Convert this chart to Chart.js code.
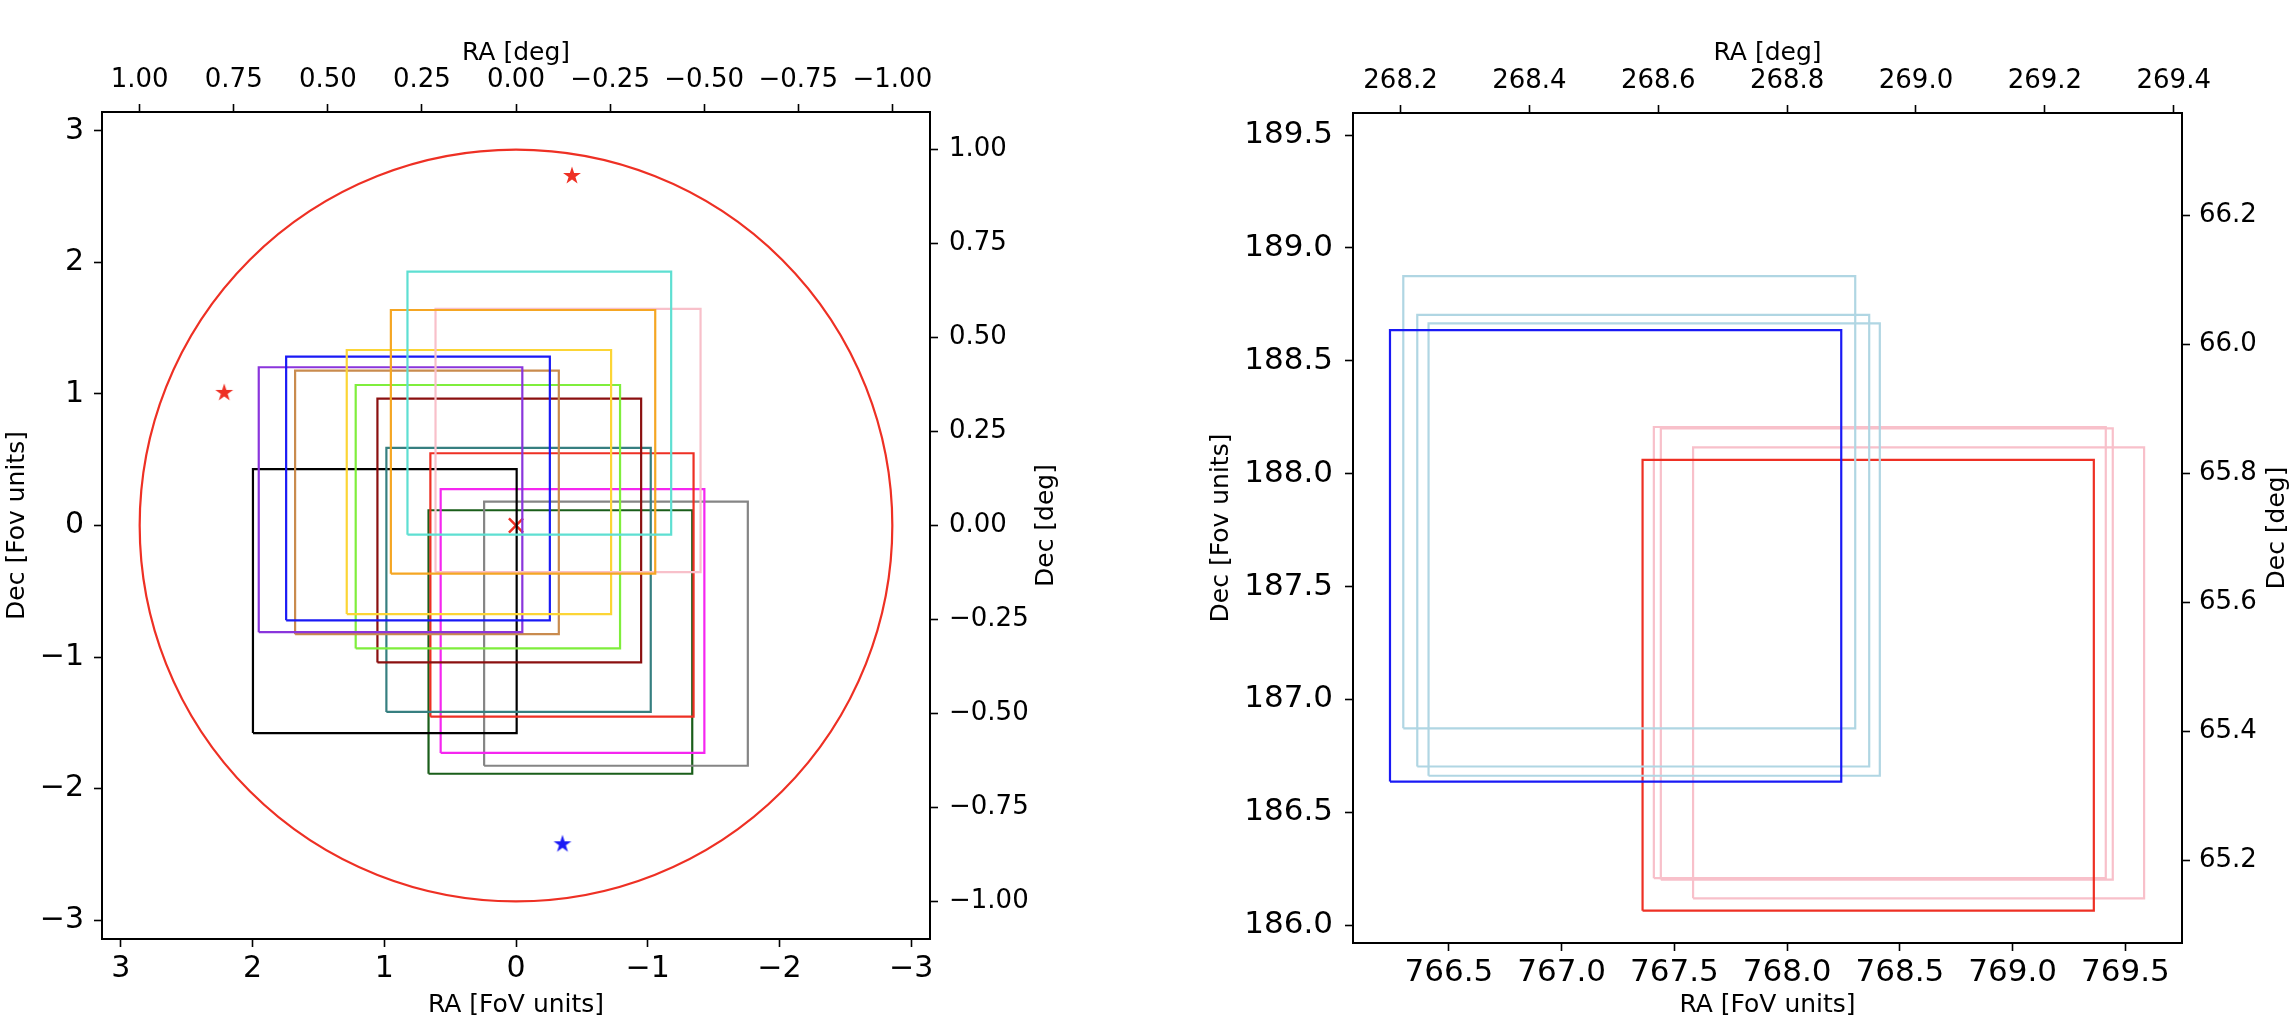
<!DOCTYPE html>
<html><head><meta charset="utf-8">
<script src="https://cdn.jsdelivr.net/npm/chart.js@4.4.0/dist/chart.umd.min.js"></script>
<style>
html,body{margin:0;padding:0;background:#fff;width:2296px;height:1028px;overflow:hidden}
canvas{position:absolute;top:0}
</style></head><body>
<canvas id="c1" width="1068" height="1028" style="left:0px"></canvas>
<canvas id="c2" width="1100" height="1028" style="left:1196px"></canvas>
<script>
// ---------------- DATA ----------------
const FOV_TO_DEG = 0.35;

// Left panel: FoV boxes (edges in FoV units)
const leftBoxNames   = ['turquoise','orange','pink','gold','blue','blueviolet','peru','lawngreen','darkred','teal','red','black','magenta','gray','darkgreen'];
const leftBoxRaLeft  = [0.824, 0.950, 0.611, 1.285, 1.745, 1.953, 1.677, 1.217, 1.052, 0.984, 0.650, 1.997, 0.572, 0.242, 0.664];
const leftBoxRaRight = [-1.178,-1.057,-1.401,-0.722,-0.257,-0.048,-0.325,-0.790,-0.950,-1.023,-1.348,-0.005,-1.430,-1.760,-1.338];
const leftBoxDecBot  = [-0.070,-0.366,-0.355,-0.673,-0.721,-0.811,-0.826,-0.934,-1.041,-1.417,-1.453,-1.578,-1.729,-1.826,-1.887];
const leftBoxDecTop  = [1.929, 1.638, 1.646, 1.334, 1.284, 1.203, 1.177, 1.068, 0.965, 0.590, 0.549, 0.428, 0.276, 0.182, 0.116];

// Left panel: markers
const redStarRa  = [-0.425, 2.215];
const redStarDec = [2.657, 1.008];
const blueStarRa  = [-0.353];
const blueStarDec = [-2.423];
const centerRa  = [0];
const centerDec = [0];
// Left panel: FoV circle (1 deg)
const circleRa = [0], circleDec = [0], circleRadius = [2.857];

// Right panel: boxes
const rightBoxNames   = ['blue','lightblue','lightblue','lightblue','red','pink','pink','pink'];
const rightBoxRaLeft  = [766.239, 766.298, 766.360, 766.410, 767.359, 767.409, 767.440, 767.583];
const rightBoxRaRight = [768.240, 768.302, 768.364, 768.411, 769.360, 769.413, 769.444, 769.583];
const rightBoxDecBot  = [186.636, 186.872, 186.703, 186.662, 186.064, 186.208, 186.202, 186.119];
const rightBoxDecTop  = [188.636, 188.875, 188.704, 188.666, 188.061, 188.207, 188.201, 188.117];

// Tick values
const leftFovTicks = [-3,-2,-1,0,1,2,3];
const leftDegTicks = [-1,-0.75,-0.5,-0.25,0,0.25,0.5,0.75,1];
const rightRaFovTicks  = [766.5,767.0,767.5,768.0,768.5,769.0,769.5];
const rightDecFovTicks = [186.0,186.5,187.0,187.5,188.0,188.5,189.0,189.5];
const rightRaDegTicks  = [268.2,268.4,268.6,268.8,269.0,269.2,269.4];
const rightDecDegTicks = [65.2,65.4,65.6,65.8,66.0,66.2];

// Axis limits
const leftLim = [-3.143, 3.143];
const rightRaLim  = [766.075, 769.751];
const rightDecLim = [185.921, 189.598];

// ---------------- STYLE ----------------
const FONT = "'DejaVu Sans', sans-serif";
const colorMap = {
  turquoise:'#5EDFD2', orange:'#F5A623', pink:'#F8C0CA', gold:'#FCD535', blue:'#1A1AF5',
  blueviolet:'#8A35DC', peru:'#C98B4E', lawngreen:'#7FEE3C', darkred:'#8B1010', teal:'#367F80',
  red:'#EE3024', black:'#000000', magenta:'#F526F0', gray:'#858585', darkgreen:'#1A5E1A',
  lightblue:'#B0D6E3'
};
const circleColor = '#EE3024';

function fmt(v, d){ const s = Math.abs(v).toFixed(d); return (v < 0 && parseFloat(s) !== 0) ? '\u2212' + s : s; }

function boxDatasets(names, x0, x1, y0, y1){
  return names.map((n,i)=>({
    data:[{x:x0[i],y:y0[i]},{x:x0[i],y:y1[i]},{x:x1[i],y:y1[i]},{x:x1[i],y:y0[i]},{x:x0[i],y:y0[i]}],
    showLine:true, pointRadius:0, borderColor:colorMap[n], borderWidth:2.2, fill:false, tension:0,
    borderJoinStyle:'miter', xAxisID:'x', yAxisID:'y'
  }));
}
function pts(xs, ys){ return xs.map((v,i)=>({x:v,y:ys[i]})); }

function makeStar(color){
  const c = document.createElement('canvas'); c.width = 22; c.height = 22;
  const g = c.getContext('2d'); g.fillStyle = color; g.beginPath();
  const R = 9.4, r = R*0.382;
  for (let i=0;i<10;i++){ const a = -Math.PI/2 + i*Math.PI/5; const rr = (i%2)? r : R; g.lineTo(11 + rr*Math.cos(a), 11 + rr*Math.sin(a)); }
  g.closePath(); g.fill(); return c;
}

function mkAxis(o){
  const horizontal = (o.position === 'top' || o.position === 'bottom');
  return {
    type:'linear', position:o.position, min:o.min, max:o.max, reverse:!!o.reverse, offset:false,
    grid:{display:true, drawOnChartArea:false, drawTicks:true, tickLength:8, tickWidth:1.6, tickColor:'#000', color:'#000'},
    border:{display:true, color:'#000', width:2},
    ticks:{color:'#000', font:{family:FONT, size:o.fontSize}, padding:o.pad, maxRotation:0, minRotation:0, autoSkip:false, includeBounds:false,
      callback:(v)=>fmt(v, o.dec)},
    title: o.title ? {display:true, text:o.title, color:'#000', font:{family:FONT, size:25},
      padding: o.position === 'bottom' ? {top:0,bottom:o.titlePad} : {top:o.titlePad,bottom:0}} : {display:false},
    afterBuildTicks: s => { s.ticks = o.ticks.map(v=>({value:v})); },
    afterFit: s => { if (horizontal) s.height = o.size; else s.width = o.size; }
  };
}

const circlePlugin = {
  id:'fovCircle',
  beforeDatasetsDraw(chart, args, opts){
    if (!opts || !opts.ra) return;
    const xs = chart.scales.x, ys = chart.scales.y, ctx = chart.ctx;
    ctx.save();
    ctx.strokeStyle = opts.color; ctx.lineWidth = 2.2;
    for (let i=0;i<opts.ra.length;i++){
      const cx = xs.getPixelForValue(opts.ra[i]), cy = ys.getPixelForValue(opts.dec[i]);
      const rx = Math.abs(xs.getPixelForValue(opts.ra[i] + opts.r[i]) - cx);
      const ry = Math.abs(ys.getPixelForValue(opts.dec[i] + opts.r[i]) - cy);
      ctx.beginPath(); ctx.ellipse(cx, cy, rx, ry, 0, 0, Math.PI*2); ctx.stroke();
    }
    ctx.restore();
  }
};
const rightTitlePlugin = {
  id:'rightTitle',
  afterDraw(chart, args, opts){
    if (!opts || !opts.text) return;
    const s = chart.scales.yRight, ctx = chart.ctx, ca = chart.chartArea;
    ctx.save(); ctx.font = '25px ' + FONT; ctx.fillStyle = '#000'; ctx.textAlign = 'center'; ctx.textBaseline = 'middle';
    ctx.translate(s.right - opts.offset, (ca.top + ca.bottom)/2); ctx.rotate(-Math.PI/2);
    ctx.fillText(opts.text, 0, 0); ctx.restore();
  }
};

const common = {
  responsive:false, maintainAspectRatio:false, animation:false, devicePixelRatio:1,
  layout:{padding:0}, events:[]
};

// ---------------- LEFT CHART ----------------
const leftDatasets = boxDatasets(leftBoxNames, leftBoxRaLeft, leftBoxRaRight, leftBoxDecBot, leftBoxDecTop);
leftDatasets.push({data:pts(redStarRa, redStarDec), pointStyle:makeStar('#EE3024'), pointRadius:10, showLine:false, xAxisID:'x', yAxisID:'y'});
leftDatasets.push({data:pts(blueStarRa, blueStarDec), pointStyle:makeStar('#1A1AF5'), pointRadius:10, showLine:false, xAxisID:'x', yAxisID:'y'});
leftDatasets.push({data:pts(centerRa, centerDec), pointStyle:'crossRot', pointRadius:10, borderColor:'#EE3024', borderWidth:2.5, showLine:false, xAxisID:'x', yAxisID:'y'});

new Chart(document.getElementById('c1'), {
  type:'scatter',
  data:{datasets:leftDatasets},
  options:Object.assign({}, common, {
    plugins:{legend:{display:false}, tooltip:{enabled:false},
      fovCircle:{ra:circleRa, dec:circleDec, r:circleRadius, color:circleColor},
      rightTitle:{text:'Dec [deg]', offset:22}},
    scales:{
      x: mkAxis({position:'bottom', min:leftLim[0], max:leftLim[1], reverse:true, ticks:leftFovTicks, dec:0, fontSize:30, pad:4, title:'RA [FoV units]', titlePad:8, size:89}),
      xTop: mkAxis({position:'top', min:leftLim[0]*FOV_TO_DEG, max:leftLim[1]*FOV_TO_DEG, reverse:true, ticks:leftDegTicks, dec:2, fontSize:26, pad:8, title:'RA [deg]', titlePad:38, size:112}),
      y: mkAxis({position:'left', min:leftLim[0], max:leftLim[1], ticks:leftFovTicks, dec:0, fontSize:30, pad:10, title:'Dec [Fov units]', titlePad:2, size:102}),
      yRight: mkAxis({position:'right', min:leftLim[0]*FOV_TO_DEG, max:leftLim[1]*FOV_TO_DEG, ticks:leftDegTicks, dec:2, fontSize:26, pad:11, title:null, size:138})
    }
  }),
  plugins:[circlePlugin, rightTitlePlugin]
});

// ---------------- RIGHT CHART ----------------
const rightDatasets = boxDatasets(rightBoxNames, rightBoxRaLeft, rightBoxRaRight, rightBoxDecBot, rightBoxDecTop);
new Chart(document.getElementById('c2'), {
  type:'scatter',
  data:{datasets:rightDatasets},
  options:Object.assign({}, common, {
    plugins:{legend:{display:false}, tooltip:{enabled:false},
      rightTitle:{text:'Dec [deg]', offset:19}},
    scales:{
      x: mkAxis({position:'bottom', min:rightRaLim[0], max:rightRaLim[1], ticks:rightRaFovTicks, dec:1, fontSize:31, pad:3, title:'RA [FoV units]', titlePad:8, size:85}),
      xTop: mkAxis({position:'top', min:rightRaLim[0]*FOV_TO_DEG, max:rightRaLim[1]*FOV_TO_DEG, ticks:rightRaDegTicks, dec:1, fontSize:26, pad:8, title:'RA [deg]', titlePad:38, size:113}),
      y: mkAxis({position:'left', min:rightDecLim[0], max:rightDecLim[1], ticks:rightDecFovTicks, dec:1, fontSize:31, pad:12, title:'Dec [Fov units]', titlePad:10, size:157}),
      yRight: mkAxis({position:'right', min:rightDecLim[0]*FOV_TO_DEG, max:rightDecLim[1]*FOV_TO_DEG, ticks:rightDecDegTicks, dec:1, fontSize:26, pad:9, title:null, size:114})
    }
  }),
  plugins:[rightTitlePlugin]
});
</script>
</body></html>
